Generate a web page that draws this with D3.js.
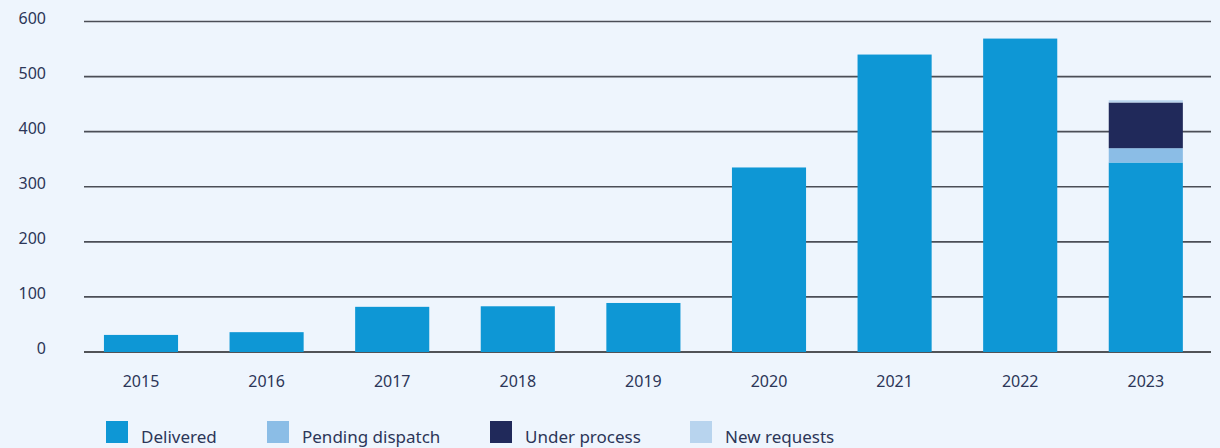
<!DOCTYPE html>
<html><head><meta charset="utf-8">
<script src="https://cdn.jsdelivr.net/npm/d3@7"></script>
<style>
html,body{margin:0;padding:0;background:#eef5fd;}
svg{display:block;}
text{font-family:"Noto Sans",sans-serif;fill:#2c3658;}
</style></head>
<body>
<svg id="c" width="1220" height="448"></svg>
<script>
const years = ["2015","2016","2017","2018","2019","2020","2021","2022","2023"];
const delivered = [31, 36, 82, 83, 89, 335, 540, 569, 344];
const pendingDispatch = [0, 0, 0, 0, 0, 0, 0, 0, 26];
const underProcess = [0, 0, 0, 0, 0, 0, 0, 0, 83];
const newRequests = [0, 0, 0, 0, 0, 0, 0, 0, 4];
const seriesNames = ["Delivered","Pending dispatch","Under process","New requests"];
const seriesColors = ["#0e97d5","#8bbde6","#20295a","#b8d4ee"];
const yTicks = [0,100,200,300,400,500,600];

const svg = d3.select("#c");
const keys = ["delivered","pending","under","newreq"];
const table = years.map((y,i)=>({year:y, delivered:delivered[i], pending:pendingDispatch[i], under:underProcess[i], newreq:newRequests[i]}));
const stacked = d3.stack().keys(keys)(table);

const x = d3.scaleBand().domain(years).range([78.2, 1208.6]).paddingInner(0.41).paddingOuter(0.205);
const y = d3.scaleLinear().domain([0,600]).range([352, 21.5]);

// gridlines
svg.append("g").selectAll("line").data(yTicks).join("line")
  .attr("x1",84).attr("x2",1211)
  .attr("y1",d=>y(d)).attr("y2",d=>y(d))
  .attr("stroke",d=>d===0?"#1c1c1f":"#4b4e56").attr("stroke-width",1.6);

// y labels
svg.append("g").selectAll("text").data(yTicks).join("text")
  .attr("x",46).attr("y",d=>y(d)+2)
  .attr("text-anchor","end").attr("font-size",16)
  .text(d=>d);

// bars
svg.append("g").selectAll("g").data(stacked).join("g")
  .attr("fill",(d,i)=>seriesColors[i])
  .selectAll("rect").data(d=>d.filter(s=>s[1]-s[0]>0)).join("rect")
  .attr("x",d=>x(d.data.year)).attr("width",x.bandwidth())
  .attr("y",d=>y(d[1])).attr("height",d=>y(d[0])-y(d[1]));

// x labels
svg.append("g").selectAll("text").data(years).join("text")
  .attr("x",d=>x(d)+x.bandwidth()/2).attr("y",387)
  .attr("text-anchor","middle").attr("font-size",16)
  .text(d=>d);

// legend
const legX = [106, 267, 490, 690];
const lg = svg.append("g").selectAll("g").data(seriesNames).join("g")
  .attr("transform",(d,i)=>`translate(${legX[i]},421)`);
lg.append("rect").attr("width",22).attr("height",22).attr("fill",(d,i)=>seriesColors[i]);
lg.append("text").attr("x",35).attr("y",22).attr("font-size",17).text(d=>d);
</script>
</body></html>
